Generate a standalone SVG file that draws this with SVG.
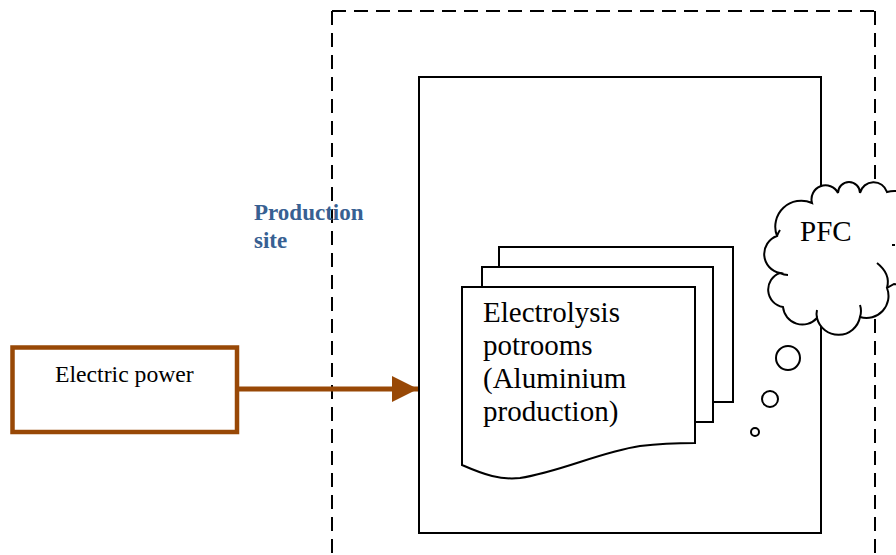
<svg xmlns="http://www.w3.org/2000/svg" width="896" height="555" viewBox="0 0 896 555">
<style>
.dash{fill:none;stroke:#000;stroke-width:2;stroke-dasharray:14 8}
.ln{fill:none;stroke:#000;stroke-width:2}
.doc{fill:#fff;stroke:#000;stroke-width:2;stroke-linejoin:miter}
.t{font-family:"Liberation Serif","Times New Roman",serif;fill:#000}
.lbl{font-family:"Liberation Serif","Times New Roman",serif;font-weight:bold;fill:#376092;font-size:23px}
</style>
<defs>
<marker id="ah" markerUnits="userSpaceOnUse" markerWidth="27" markerHeight="26" refX="26" refY="13" orient="auto">
<path d="M0,0 L26,13 L0,26 Z" fill="#984806"/>
</marker>
</defs>
<rect width="896" height="555" fill="#fff"/>
<g id="production-site">
<path class="dash" d="M332,11 H876"/>
<path class="dash" d="M332,11 V560"/>
<path class="dash" d="M875,11 V560"/>
<text class="lbl" x="254" y="220">Production</text>
<text class="lbl" x="254" y="248">site</text>
</g>
<g id="plant">
<rect class="ln" x="419" y="77" width="402" height="456"/>
</g>
<g id="electric-power">
<rect x="12.5" y="347.5" width="224.5" height="84.5" fill="#fff" stroke="#984806" stroke-width="4.5"/>
<text class="t" x="55" y="382" font-size="23.7">Electric power</text>
</g>
<g id="potrooms">
<path class="doc" d="M499,267 V247 H733 V402 H713"/>
<path class="doc" d="M482,287 V267 H713 V422 H695"/>
<path class="doc" d="M462,287 H695 V443 C680,443 665,443 640,446 C600,452 560,472 520,478 C500,480 485,475 462,465 Z"/>
<text class="t" font-size="29"><tspan x="483" y="322">Electrolysis</tspan><tspan x="483" y="355">potrooms</tspan><tspan x="483" y="388">(Aluminium</tspan><tspan x="483" y="421">production)</tspan></text>
</g>
<g id="connectors">
<line x1="239" y1="389" x2="418" y2="389" stroke="#984806" stroke-width="5" marker-end="url(#ah)"/>
</g>
<g id="pfc">
<path fill="#fff" stroke="#000" stroke-width="2" d="M777,236 A26,26 0 0 1 812,203 A14,14 0 0 1 838,193 A11,11 0 0 1 860,193 A14,14 0 0 1 887,192 A26,26 0 0 1 912,236 A26,26 0 0 1 894,284 L887,288 A22,22 0 0 1 860,317 A22,22 0 0 1 817,318 A19.5,19.5 0 0 1 783,307 A17.6,17.6 0 0 1 780,273 A19.2,19.2 0 0 1 777,236 Z"/>
<path class="ln" d="M877,263 Q891,274 887,288"/>
<path class="ln" d="M817,318 Q816,314 817,310"/>
<path class="ln" d="M860,317 Q862,311 860,305"/>
<path class="ln" d="M780,273 Q784,275 788,275"/>
<path class="ln" d="M777,236 Q778,233 780,230"/>
<path class="ln" d="M895,245 L892,245"/>
<text class="t" x="800" y="241" font-size="29">PFC</text>
<circle class="ln" cx="788" cy="358" r="12" fill="#fff"/>
<circle class="ln" cx="770" cy="399" r="8" fill="#fff"/>
<circle class="ln" cx="755" cy="432" r="4" fill="#fff"/>
</g>
</svg>
